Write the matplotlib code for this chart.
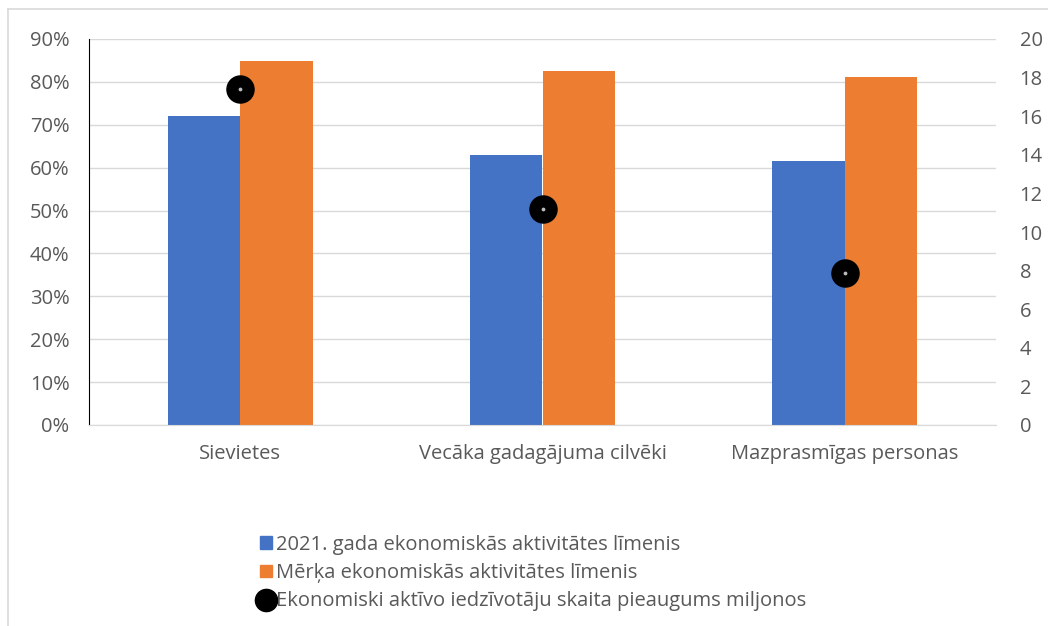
import matplotlib
matplotlib.use("Agg")
import matplotlib.pyplot as plt
from matplotlib.lines import Line2D
import numpy as np

categories = ["Sievietes", "Vecāka gadagājuma cilvēki", "Mazprasmīgas personas"]
level_2021 = [72.0, 63.0, 61.5]
target_level = [84.8, 82.5, 81.1]
growth_millions = [17.4, 11.2, 7.9]
left_ticks = [0, 10, 20, 30, 40, 50, 60, 70, 80, 90]
right_ticks = [0, 2, 4, 6, 8, 10, 12, 14, 16, 18, 20]
legend_labels = ["2021. gada ekonomiskās aktivitātes līmenis",
                 "Mērķa ekonomiskās aktivitātes līmenis",
                 "Ekonomiski aktīvo iedzīvotāju skaita pieaugums miljonos"]

plt.rcParams['font.family'] = ['Open Sans', 'DejaVu Sans']
txt = '#595959'
blue = '#4472C4'
orange = '#ED7D31'
fs = 14.5

fig = plt.figure(figsize=(10.48, 6.26), dpi=100)
ax = fig.add_axes([89/1048, 1 - 425/626, (996-89)/1048, (425-39)/626])
x = np.arange(len(categories))
w = 0.24
ax.bar(x - w/2, level_2021, w, color=blue, zorder=2)
ax.bar(x + w/2, target_level, w, color=orange, zorder=2)
ax.set_xlim(-0.5, 2.5)
ax.set_ylim(0, 90)
ax.set_yticks(left_ticks)
ax.set_yticklabels([f"{t}%" for t in left_ticks])
ax.set_xticks(x)
ax.set_xticklabels(categories)
ax.grid(axis='y', color='#D9D9D9', linewidth=1, zorder=0)
for s in ['top', 'right']:
    ax.spines[s].set_visible(False)
ax.spines['bottom'].set_color('#D9D9D9')
ax.spines['left'].set_color('black')
ax.tick_params(axis='both', length=0, labelsize=fs, colors=txt)
ax.tick_params(axis='x', pad=14)
ax.tick_params(axis='y', pad=14)

ax2 = ax.twinx()
ax2.set_ylim(0, 20)
ax2.set_yticks(right_ticks)
for s in ['top', 'right', 'left', 'bottom']:
    ax2.spines[s].set_visible(False)
ax2.tick_params(axis='y', length=0, labelsize=fs, colors=txt, pad=17)
ax2.scatter(x, growth_millions, s=380, color='black', zorder=5)
ax2.scatter(x, growth_millions, s=3, color='#BBBBBB', zorder=6)

handles = [plt.Rectangle((0, 0), 1, 1, color=blue),
           plt.Rectangle((0, 0), 1, 1, color=orange),
           Line2D([], [], marker='o', color='black', linestyle='none', markersize=16)]
leg = fig.legend(handles, legend_labels, loc='center', bbox_to_anchor=(533/1048, 1 - 573/626),
                 frameon=False, fontsize=fs, handlelength=0.6, handleheight=0.6,
                 handletextpad=0.2, labelspacing=0.42)
for t in leg.get_texts():
    t.set_color(txt)

fig.add_artist(Line2D([8/1048, 8/1048], [0, 1 - 9/626], color='#D9D9D9', lw=1.2, transform=fig.transFigure))
fig.add_artist(Line2D([8/1048, 1], [1 - 9/626, 1 - 9/626], color='#D9D9D9', lw=1.2, transform=fig.transFigure))

fig.savefig("out.png", dpi=100)
